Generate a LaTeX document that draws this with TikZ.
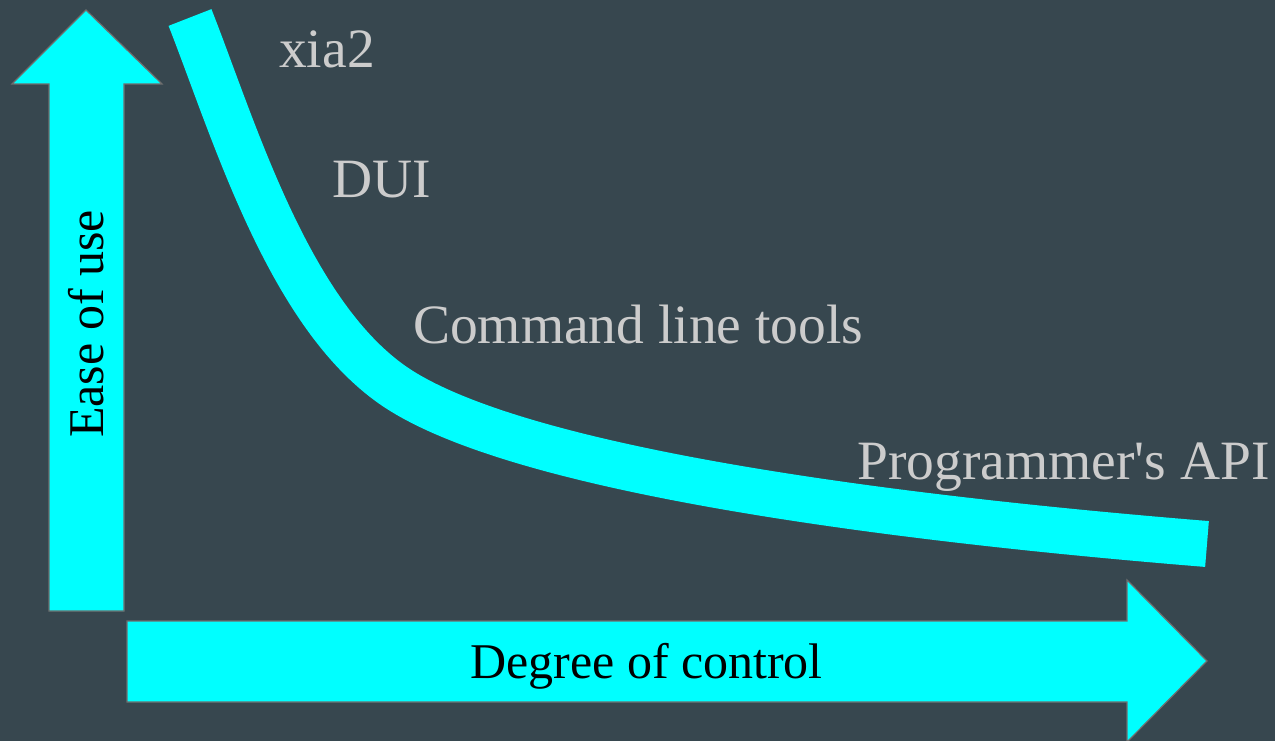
\documentclass[tikz,border=0pt]{standalone}
\usepackage{fontspec}
\setmainfont{Liberation Serif}[Ligatures=TeXOff]
\definecolor{bgslate}{RGB}{55,71,79}
\definecolor{bandcyan}{RGB}{0,255,255}
\definecolor{edgegray}{RGB}{110,110,110}
\definecolor{labelgray}{RGB}{204,204,204}
\begin{document}
\begin{tikzpicture}[x=1pt,y=-1pt,
  axisarrow/.style={fill=bandcyan,draw=edgegray,line width=1.2pt,line join=miter},
  tierlabel/.style={text=labelgray,font=\fontsize{55.5}{60}\selectfont,inner sep=0pt,anchor=base west},
  axislabel/.style={text=black,font=\fontsize{50}{55}\selectfont,inner sep=0pt,anchor=base west}]
  % background
  \fill[bgslate] (0,0) rectangle (1275,741);
  \useasboundingbox (0,0) rectangle (1275,741);

  % vertical axis arrow
  \draw[axisarrow] (49,611) -- (49,84) -- (12,84) -- (86,10) -- (162,84)
    -- (124,84) -- (124,611) -- cycle;
  % horizontal axis arrow
  \draw[axisarrow] (127,621) -- (1127,621) -- (1127,580) -- (1207,661)
    -- (1127,742) -- (1127,702) -- (127,702) -- cycle;

  % trade-off curve
  \draw[bandcyan,line width=46pt,line cap=butt]
    (190,17.5) .. controls (235,132) and (290,320) .. (400,390)
    .. controls (520,466) and (850,515) .. (1207,544);

  % axis labels
  \node[axislabel] (deg) at (470,678) {Degree of control};
  \node[axislabel,rotate=90] (ease) at (103,438) {Ease of use};

  % tiers along the curve
  \node[tierlabel] (xia) at (279,68) {xia2};
  \node[tierlabel] (dui) at (332,197) {DUI};
  \node[tierlabel] (cli) at (413,343) {Command line tools};
  \node[tierlabel] (api) at (857,479) {Programmer's API};
\end{tikzpicture}
\end{document}
